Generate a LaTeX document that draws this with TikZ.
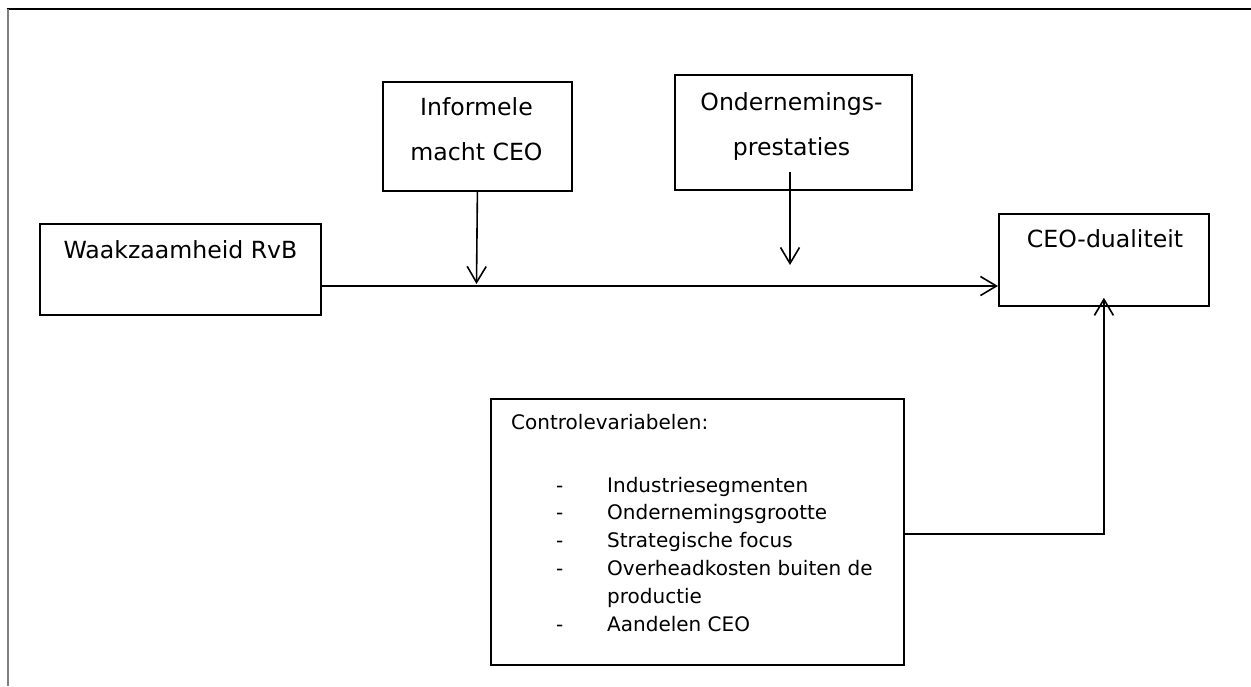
\documentclass[tikz,border=0pt]{standalone}
\usepackage{fontspec}
\setmainfont{DejaVu Sans}
\usetikzlibrary{arrows.meta}
\tikzset{
  box/.style={draw=black, line width=1.8pt, rectangle, inner sep=0pt, anchor=north west},
  big/.style={font=\fontsize{23.6pt}{28pt}\selectfont, inner sep=0pt, anchor=base},
  small/.style={font=\fontsize{20pt}{24pt}\selectfont, inner sep=0pt, anchor=base west},
  arr/.style={line width=1.6pt, -{Straight Barb[length=16pt,width=19pt,line width=1.6pt]}},
  conn/.style={line width=1.6pt}
}
\begin{document}
\begin{tikzpicture}[x=1pt,y=-1pt]
\useasboundingbox (0,0) rectangle (1251,686);
% frame
\draw[line width=1.5pt, black] (7,9) -- (1251,9);
\draw[line width=2pt, gray] (7.5,9) -- (7.5,686);
% boxes
\node[box, minimum width=281pt, minimum height=91pt] (waak) at (39,223) {};
\node[box, minimum width=189pt, minimum height=109pt] (inf) at (382,81) {};
\node[box, minimum width=237pt, minimum height=115pt] (ond) at (674,74) {};
\node[box, minimum width=210pt, minimum height=92pt] (ceo) at (998,213) {};
\node[box, minimum width=413pt, minimum height=266pt] (ctrl) at (490,398) {};
% texts
\node[big] (twaak) at (180.5,258) {Waakzaamheid RvB};
\node[big] (tinf1) at (476.5,115) {Informele};
\node[big] (tinf2) at (476.5,160) {macht CEO};
\node[big] (tond1) at (791.5,110) {Ondernemings-};
\node[big] (tond2) at (791.5,155) {prestaties};
\node[big] (tceo) at (1105,247) {CEO-dualiteit};
\node[small] (tc0) at (511,429) {Controlevariabelen:};
\node[small] (d1) at (556,492) {-};
\node[small] (d2) at (556,519.8) {-};
\node[small] (d3) at (556,547.6) {-};
\node[small] (d4) at (556,575.4) {-};
\node[small] (d5) at (556,631) {-};
\node[small] (tc1) at (607,492) {Industriesegmenten};
\node[small] (tc2) at (607,519.8) {Ondernemingsgrootte};
\node[small] (tc3) at (607,547.6) {Strategische focus};
\node[small] (tc4) at (607,575.4) {Overheadkosten buiten de};
\node[small] (tc5) at (607,603.2) {productie};
\node[small] (tc6) at (607,631) {Aandelen CEO};
% connectors
\coordinate (mainy) at (0,286);
\coordinate (ctrly) at (0,534);
\coordinate (infend) at (476.5,284);
\coordinate (ondstart) at (790,172);
\coordinate (ondend) at (790,265);
\draw[arr] (waak.east |- mainy) -- (ceo.west |- mainy);
\draw[arr] (inf.south) -- (infend);
\draw[arr] (ondstart) -- (ondend);
\draw[arr] (ctrl.east |- ctrly) -| ([yshift=9pt]ceo.south);
\end{tikzpicture}
\end{document}
